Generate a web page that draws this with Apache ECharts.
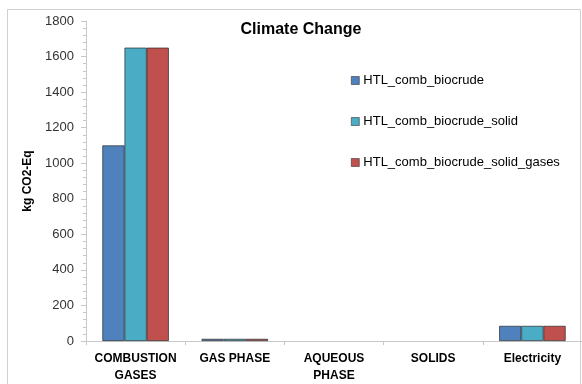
<!DOCTYPE html>
<html>
<head>
<meta charset="utf-8">
<script src="https://cdn.jsdelivr.net/npm/echarts@6/dist/echarts.min.js"></script>
<style>
  html, body { margin: 0; padding: 0; background: #fff; }
  #chart { width: 582px; height: 384px; }
</style>
</head>
<body>
<div id="chart"></div>
<script>
// Emission sources (x categories)
const categories = ['COMBUSTION\nGASES', 'GAS PHASE', 'AQUEOUS\nPHASE', 'SOLIDS', 'Electricity'];

// Scenario names
const seriesNames = ['HTL_comb_biocrude', 'HTL_comb_biocrude_solid', 'HTL_comb_biocrude_solid_gases'];

// kg CO2-Eq per source, one array per scenario
const combBiocrude = [1100, 12, 0, 0, 85];
const combBiocrudeSolid = [1650, 12, 0, 0, 85];
const combBiocrudeSolidGases = [1650, 12, 0, 0, 85];

// Value axis ticks
const yTicks = [0, 200, 400, 600, 800, 1000, 1200, 1400, 1600, 1800];

const colors = ['#4f81bd', '#4bacc6', '#c0504d'];
const seriesData = [combBiocrude, combBiocrudeSolid, combBiocrudeSolidGases];

const chart = echarts.init(document.getElementById('chart'), null, { renderer: 'canvas' });

const font = 'Liberation Sans, Arial, sans-serif';

// zero-height bars get no outline so they stay invisible
const toItems = arr => arr.map(v => v === 0 ? { value: v, itemStyle: { borderWidth: 0 } } : v);

chart.setOption({
  animation: false,
  backgroundColor: '#ffffff',
  graphic: [{
    type: 'rect',
    shape: { x: 7.5, y: 9.5, width: 573, height: 390 },
    style: { fill: 'none', stroke: '#d0d0d0', lineWidth: 1 },
    silent: true,
    z: -1
  }],
  title: {
    text: 'Climate Change',
    left: 296,
    top: 17,
    textAlign: 'center',
    textStyle: { fontFamily: font, fontSize: 16, fontWeight: 'bold', color: '#000' }
  },
  legend: {
    orient: 'vertical',
    left: 346,
    top: 69,
    itemWidth: 8,
    itemHeight: 8,
    itemGap: 28,
    icon: 'rect',
    data: seriesNames,
    textStyle: { fontFamily: font, fontSize: 13, color: '#000', padding: [0, 0, 0, -1] },
    itemStyle: { borderColor: '#333', borderWidth: 0.6 }
  },
  grid: { left: 86, right: -3, top: 21, bottom: 33 },
  xAxis: {
    type: 'category',
    data: categories,
    axisLine: { lineStyle: { color: '#c8c8c8', width: 1 } },
    axisTick: { show: true, length: 4, lineStyle: { color: '#c8c8c8' } },
    axisLabel: {
      fontFamily: font, fontSize: 12, fontWeight: 'bold', color: '#000',
      margin: 9, lineHeight: 17, interval: 0
    },
    splitLine: { show: false }
  },
  yAxis: {
    type: 'value',
    min: yTicks[0],
    max: yTicks[yTicks.length - 1],
    interval: yTicks[1] - yTicks[0],
    name: 'kg CO2-Eq',
    nameLocation: 'middle',
    nameGap: 42,
    nameRotate: 90,
    nameTextStyle: { fontFamily: font, fontSize: 12, fontWeight: 'bold', color: '#000' },
    axisLine: { show: true, lineStyle: { color: '#c8c8c8', width: 1 } },
    axisTick: { show: true, length: 5, lineStyle: { color: '#c8c8c8' } },
    minorTick: { show: true, splitNumber: 5, length: 3, lineStyle: { color: '#c8c8c8' } },
    axisLabel: { fontFamily: font, fontSize: 13, color: '#333', margin: 12, formatter: v => String(v) },
    splitLine: { show: false }
  },
  series: seriesNames.map((name, i) => ({
    name: name,
    type: 'bar',
    data: toItems(seriesData[i]),
    barGap: '0%',
    barCategoryGap: '33%',
    itemStyle: { color: colors[i], borderColor: '#2b2b2b', borderWidth: 0.7 }
  }))
});
</script>
</body>
</html>
